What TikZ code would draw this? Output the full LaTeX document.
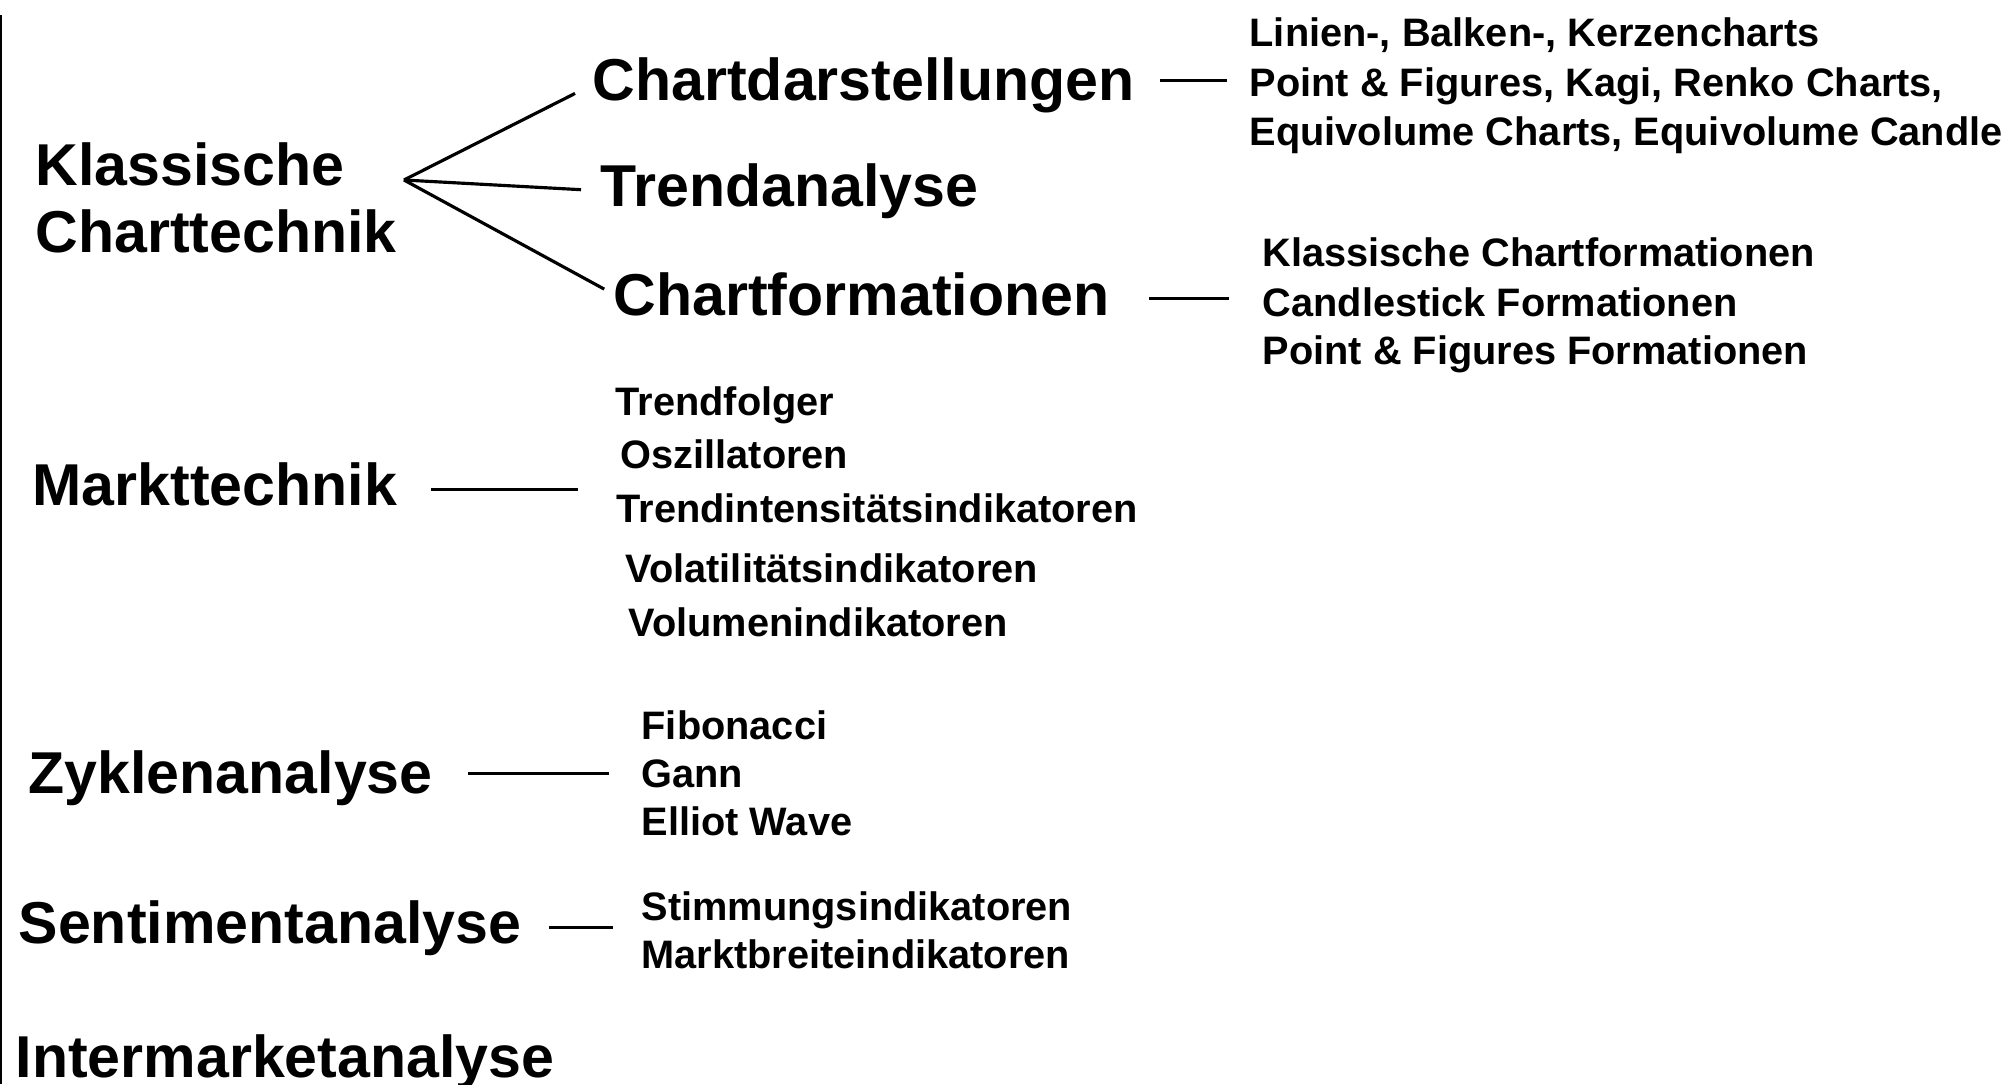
\documentclass[tikz,border=0pt]{standalone}
\usepackage{fontspec}
\setmainfont{Liberation Sans}
\usepackage{tikz}
\usetikzlibrary{positioning}
\tikzset{
main topic/.style = { anchor = base west, inner sep = 0pt, font = \bfseries\fontsize{16.8}{20}\selectfont },
detail/.style = { anchor = base west, inner sep = 0pt, font = \bfseries\fontsize{11.3}{14}\selectfont },
}

\begin{document}
\begin{tikzpicture}[x=0.01cm, y=-0.01cm]
      \useasboundingbox (0,0) rectangle (2011,1084);
      \draw[line width=0.6pt] (1,15) -- (1,1084);
      \begin{scope}[every node/.style={main topic}]
        \node (kl) at (35,185) {Klassische};
        \node (ct) at (35,252) {Charttechnik};
        \node (cd) at (592,100) {Chartdarstellungen};
        \node (ta) at (600,206) {Trendanalyse};
        \node (cf) at (613,315) {Chartformationen};
        \node (mt) at (32,505) {Markttechnik};
        \node (zy) at (28,793) {Zyklenanalyse};
        \node (se) at (18,943) {Sentimentanalyse};
        \node (im) at (15,1077) {Intermarketanalyse};
      \end{scope}
      \begin{scope}[every node/.style={detail}]
        \node (cd1) at (1249,46) {Linien-, Balken-, Kerzencharts};
        \node (cd2) at (1249,96) {Point \& Figures, Kagi, Renko Charts,};
        \node (cd3) at (1249,145) {Equivolume Charts, Equivolume Candle};
        \node (cf1) at (1262,266) {Klassische Chartformationen};
        \node (cf2) at (1262,316) {Candlestick Formationen};
        \node (cf3) at (1262,364) {Point \& Figures Formationen};
        \node (mt1) at (615,415) {Trendfolger};
        \node (mt2) at (620,468) {Oszillatoren};
        \node (mt3) at (616,522) {Trendintensitätsindikatoren};
        \node (mt4) at (625,582) {Volatilitätsindikatoren};
        \node (mt5) at (628,636) {Volumenindikatoren};
        \node (zy1) at (641,739) {Fibonacci};
        \node (zy2) at (641,787) {Gann};
        \node (zy3) at (641,835) {Elliot Wave};
        \node (se1) at (641,920) {Stimmungsindikatoren};
        \node (se2) at (641,968) {Marktbreiteindikatoren};
      \end{scope}
      \coordinate (kfork) at (404,180);
      \begin{scope}[every edge/.style={draw=black, line width=0.9pt}]
        \path [-] (kfork) edge [shorten >=0.19cm] (cd.west);
        \path [-] (kfork) edge [shorten >=0.19cm] (ta.west);
        \path [-] (kfork) edge [shorten >=0.10cm] (cf.west);
        \path [-] ([yshift=0.04cm]cd.east) edge [shorten <=0.25cm, shorten >=0.22cm] ([yshift=0.04cm]cd.east -| cd2.west);
        \path [-] ([yshift=-0.05cm]cf.east) edge [shorten <=0.39cm, shorten >=0.33cm] ([yshift=-0.05cm]cf.east -| cf2.west);
        \path [-] ([yshift=-0.06cm]mt.east) edge [shorten <=0.33cm, shorten >=0.38cm] ([yshift=-0.06cm]mt.east -| mt3.west);
        \path [-] ([yshift=0.04cm]zy.east) edge [shorten <=0.35cm, shorten >=0.32cm] ([yshift=0.04cm]zy.east -| zy2.west);
        \path [-] (se.east) edge [shorten <=0.27cm, shorten >=0.28cm] (se.east -| se1.west);
      \end{scope}
    \end{tikzpicture}
\end{document}
